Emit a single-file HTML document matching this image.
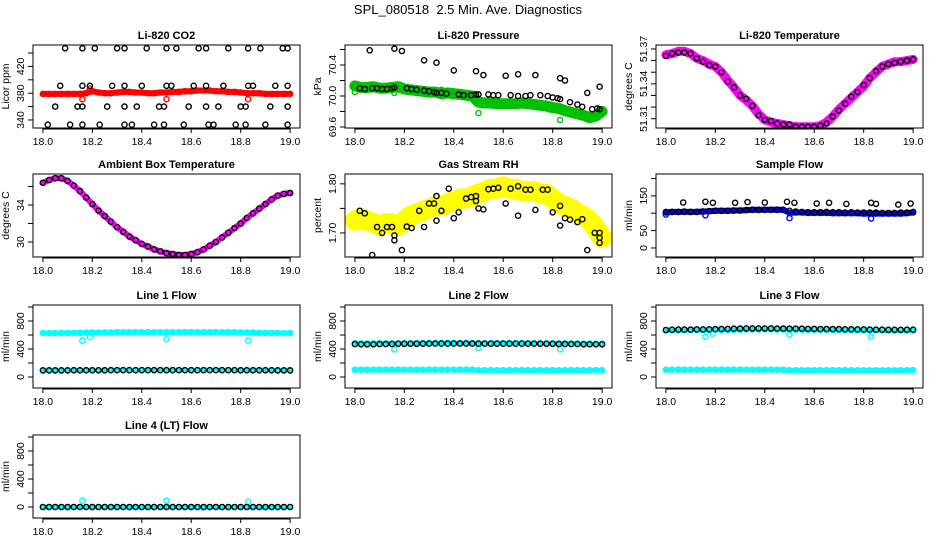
<!DOCTYPE html>
<html><head><meta charset="utf-8">
<style>
html,body{margin:0;padding:0;background:#fff;}
svg{display:block;font-family:"Liberation Sans",Arial,sans-serif;}
</style></head>
<body>
<svg id="chart" width="936" height="540" viewBox="0 0 936 540" xmlns="http://www.w3.org/2000/svg">
<rect x="0" y="0" width="936" height="540" fill="#fff"/>
<text x="468" y="14" text-anchor="middle" font-size="13">SPL_080518&#160; 2.5 Min. Ave. Diagnostics</text>
</svg>
<script>
const bandX = [18.000,18.025,18.050,18.075,18.100,18.125,18.150,18.175,18.200,18.225,18.250,18.275,18.300,18.325,18.350,18.375,18.400,18.425,18.450,18.475,18.500,18.525,18.550,18.575,18.600,18.625,18.650,18.675,18.700,18.725,18.750,18.775,18.800,18.825,18.850,18.875,18.900,18.925,18.950,18.975,19.000];
const xTicks = [18.0,18.2,18.4,18.6,18.8,19.0];
const xTickLabels = ["18.0","18.2","18.4","18.6","18.8","19.0"];

// CO2
const co2Red = [379,379,379,379,379,379,379,380,383,381,380,380,381,382,382,381,381,380,380,381,381,382,382,383,383,384,384,384,383,383,382,382,381,380,380,380,379,379,379,379,379];
const co2RedOutX = [18.16,18.19,18.50,18.83];
const co2RedOutY = [371,387,371,371];
const co2BlackX = [18.09,18.16,18.21,18.30,18.33,18.42,18.50,18.54,18.63,18.66,18.75,18.83,18.88,18.97,18.99,
 18.07,18.16,18.19,18.28,18.33,18.40,18.50,18.52,18.61,18.66,18.73,18.83,18.85,18.94,18.99,
 18.05,18.14,18.16,18.26,18.33,18.38,18.47,18.49,18.59,18.66,18.71,18.80,18.82,18.92,18.99,
 18.02,18.11,18.16,18.23,18.33,18.36,18.45,18.49,18.57,18.67,18.69,18.78,18.82,18.90,18.99];
const co2BlackY = [447,447,447,447,447,447,447,447,447,447,447,447,447,447,447,
 391,391,391,391,391,391,391,391,391,391,391,391,391,391,391,
 360,360,360,360,360,360,360,360,360,360,360,360,360,360,360,
 333,333,333,333,333,333,333,333,333,333,333,333,333,333,333];

// Pressure
const presGreen = [70.13,70.11,70.11,70.12,70.10,70.10,70.11,70.12,70.09,70.08,70.07,70.06,70.05,70.05,70.03,70.04,70.03,70.02,70.01,70.00,69.92,69.91,69.91,69.90,69.90,69.90,69.90,69.91,69.90,69.89,69.88,69.87,69.85,69.84,69.81,69.79,69.77,69.75,69.72,69.74,69.80];
const presGreenOutX = [18.00,18.16,18.35,18.50,18.83];
const presGreenOutY = [70.05,70.04,70.08,69.78,69.69];
const presBlackX = [18.02,18.04,18.07,18.09,18.11,18.13,18.15,18.16,18.21,18.23,18.25,18.28,18.30,18.32,18.33,18.35,18.37,18.42,18.44,18.47,18.49,18.50,18.54,18.56,18.58,18.63,18.66,18.69,18.71,18.75,18.78,18.80,18.82,18.83,18.87,18.90,18.92,18.96,18.98,18.99,
 18.06,18.16,18.19,18.28,18.33,18.40,18.49,18.52,18.61,18.66,18.73,18.83,18.85,18.94,18.99];
const presBlackY = [70.10,70.09,70.10,70.10,70.09,70.09,70.10,70.11,70.10,70.09,70.08,70.07,70.06,70.05,70.04,70.04,70.03,70.02,70.01,70.01,70.02,70.02,70.02,70.01,70.01,70.01,70.00,70.00,70.01,70.01,70.00,69.98,69.97,69.96,69.92,69.89,69.86,69.83,69.84,69.83,
 70.59,70.61,70.58,70.46,70.43,70.33,70.32,70.27,70.26,70.28,70.27,70.23,70.20,70.04,70.12];

// Li-820 temperature
const ltMag = [51.365,51.366,51.368,51.368,51.366,51.362,51.360,51.357,51.355,51.350,51.343,51.337,51.330,51.326,51.321,51.314,51.309,51.307,51.306,51.305,51.304,51.303,51.303,51.303,51.303,51.304,51.307,51.312,51.318,51.323,51.328,51.333,51.338,51.345,51.350,51.355,51.357,51.359,51.359,51.360,51.361];
const ltBlack = [51.364,51.366,51.367,51.367,51.366,51.362,51.359,51.356,51.355,51.350,51.342,51.337,51.330,51.327,51.321,51.313,51.309,51.308,51.306,51.305,51.305,51.303,51.303,51.303,51.303,51.304,51.306,51.312,51.317,51.323,51.329,51.333,51.339,51.345,51.351,51.355,51.357,51.358,51.359,51.360,51.361];

// Ambient
const ambMag = [36.4,36.7,36.9,36.9,36.6,36.1,35.5,34.8,34.1,33.4,32.8,32.2,31.6,31.1,30.6,30.2,29.8,29.5,29.2,29.0,28.8,28.7,28.6,28.6,28.7,28.9,29.2,29.6,30.0,30.5,31.0,31.5,32.0,32.6,33.1,33.6,34.1,34.6,35.0,35.2,35.3];
const ambBlack = [36.4,36.7,36.9,36.9,36.6,36.1,35.5,34.8,34.1,33.4,32.8,32.2,31.6,31.1,30.6,30.2,29.8,29.5,29.2,29.0,28.8,28.7,28.6,28.6,28.7,28.9,29.2,29.6,30.0,30.5,31.0,31.5,32.0,32.6,33.1,33.6,34.1,34.6,35.0,35.2,35.3];

// RH
const rhYellow = [1.725,1.730,1.725,1.720,1.715,1.720,1.720,1.715,1.725,1.735,1.740,1.745,1.750,1.755,1.755,1.760,1.765,1.770,1.770,1.775,1.780,1.785,1.790,1.790,1.795,1.790,1.790,1.785,1.785,1.785,1.780,1.780,1.770,1.760,1.755,1.750,1.740,1.735,1.725,1.710,1.690];
const rhBlackX = [18.02,18.04,18.07,18.09,18.11,18.13,18.15,18.16,18.16,18.19,18.21,18.23,18.26,18.28,18.30,18.32,18.33,18.33,18.35,18.38,18.40,18.42,18.45,18.47,18.49,18.49,18.50,18.52,18.54,18.56,18.58,18.61,18.63,18.66,18.66,18.69,18.71,18.73,18.76,18.78,18.80,18.83,18.83,18.85,18.87,18.90,18.92,18.94,18.97,18.99,18.99,18.99];
const rhBlackY = [1.745,1.740,1.655,1.712,1.700,1.712,1.712,1.695,1.685,1.665,1.713,1.710,1.745,1.712,1.760,1.760,1.725,1.775,1.745,1.790,1.730,1.742,1.770,1.773,1.775,1.765,1.750,1.748,1.789,1.790,1.792,1.760,1.790,1.795,1.735,1.788,1.788,1.747,1.788,1.788,1.742,1.715,1.755,1.730,1.727,1.722,1.728,1.665,1.700,1.700,1.680,1.690];

// Sample flow
const sfBlue = [102,104,104,104,104,104,105,106,107,107,107,108,108,109,110,110,110,110,110,110,101,102,102,101,101,101,101,100,100,100,100,100,99,99,99,99,99,99,99,100,102];
const sfBlack = [104,104,104,105,104,104,105,106,107,107,107,108,108,109,110,109,110,110,110,110,107,105,104,103,103,103,104,103,103,102,103,102,102,102,102,101,101,101,102,102,104];
const sfUpperX = [18.07,18.16,18.19,18.28,18.33,18.40,18.49,18.52,18.61,18.66,18.73,18.83,18.85,18.94,18.99];
const sfUpperY = [131,133,130,130,132,131,133,130,128,130,127,130,127,125,128];
const sfOutX = [18.00,18.16,18.50,18.83];
const sfOutY = [96,94,86,85];

// Line flows
const l1CyanHi = [630,628,628,630,630,632,632,634,636,636,638,638,640,640,640,640,640,640,640,640,640,640,640,640,640,640,640,640,640,640,642,640,638,636,634,632,630,630,630,628,628];
const l1CyanLo = [100,100,100,100,100,100,100,100,100,100,100,100,100,100,100,100,100,100,100,100,100,100,100,100,100,100,100,100,100,100,100,100,100,100,100,100,100,100,100,100,100];
const l1Black = [95,95,95,95,95,96,96,96,96,96,96,97,97,97,97,97,97,97,97,98,98,98,98,98,98,98,98,98,97,97,97,97,96,96,96,96,96,96,95,95,95];
const l1OutX = [18.16,18.19,18.50,18.83];
const l1OutY = [520,570,540,520];

const l2CyanHi = [485,482,480,480,480,480,482,482,484,484,486,486,486,488,488,488,488,488,486,486,484,484,484,484,484,484,484,484,482,482,482,482,482,480,480,480,478,478,478,476,476];
const l2CyanLo = [105,105,105,105,105,105,105,105,105,105,105,105,105,105,105,105,105,105,105,105,98,98,98,98,98,98,98,98,98,98,98,98,98,98,98,98,98,98,98,98,98];
const l2Black = [470,468,468,468,470,470,472,474,474,474,474,476,478,478,478,478,478,478,478,478,476,476,476,476,476,476,476,476,476,476,474,474,474,472,470,470,470,468,468,468,468];
const l2OutX = [18.16,18.50,18.83];
const l2OutY = [395,415,395];

const l3CyanHi = [668,668,668,670,670,670,672,672,674,674,676,676,678,678,680,680,680,680,680,680,678,678,676,676,676,674,674,672,672,672,670,670,668,668,668,666,666,664,664,664,664];
const l3CyanLo = [105,105,105,105,105,105,105,105,105,105,105,105,105,105,105,105,105,105,105,105,98,98,98,98,98,98,98,98,98,98,98,98,96,96,96,96,96,96,96,98,100];
const l3Black = [672,676,678,678,678,680,680,682,684,686,688,690,692,694,694,694,694,694,692,692,690,690,690,688,688,686,686,684,684,682,682,680,680,678,676,676,674,674,674,676,676];
const l3OutX = [18.16,18.19,18.50,18.83];
const l3OutY = [575,620,605,575];

const l4Cyan = [0,0,0,0,0,0,0,0,0,0,0,0,0,0,0,0,0,0,0,0,0,0,0,0,0,0,0,0,0,0,0,0,0,0,0,0,0,0,0,0,0];
const l4Black = [0,0,0,0,0,0,0,0,0,0,0,0,0,0,0,0,0,0,0,0,0,0,0,0,0,0,0,0,0,0,0,0,0,0,0,0,0,0,0,0,0];
const l4OutX = [18.16,18.50,18.83];
const l4OutY = [90,90,75];

const NS = "http://www.w3.org/2000/svg";
const svg = document.getElementById("chart");
function mk(tag, attrs, parent){
  const e = document.createElementNS(NS, tag);
  for (const k in attrs) e.setAttribute(k, attrs[k]);
  (parent||svg).appendChild(e);
  return e;
}
const colL = [33,345,656], rowT = [45,174,305,435];
const BW = 267, BH = 83;

function panel(cfg){
  const L = colL[cfg.col], T = rowT[cfg.row];
  const g = mk("g", {});
  
  
  const xs = v => L + (v - 17.96) / 1.08 * BW;
  const ys = v => T + BH - (v - cfg.ylim[0]) / (cfg.ylim[1] - cfg.ylim[0]) * BH;
  const clip = mk("clipPath", {id: "clip-" + cfg.name}, g);
  mk("rect", {x: L, y: T, width: BW, height: BH}, clip);
  const plot = mk("g", {"clip-path": "url(#clip-" + cfg.name + ")"}, g);
  
  
  cfg.series.forEach(s => {
    if (s.band) {
      const pts = s.vals.map((v,i) => xs(bandX[i]).toFixed(1) + "," + ys(v).toFixed(1)).join(" ");
      const pl = mk("polyline", {points: pts, fill: "none", stroke: s.color, "stroke-width": s.band, "stroke-linejoin": "round", "stroke-linecap": "round"}, plot);
      
      
    }
    const px = s.x || bandX;
    const n = Math.min(px.length, s.vals.length);
    for (let i = 0; i < n; i++) {
      const c = mk("circle", {cx: xs(px[i]).toFixed(1), cy: ys(s.vals[i]).toFixed(1), r: 2.6, fill: "none", stroke: s.color, "stroke-width": 1.4}, plot);
      
      
    }
  });
  const box = mk("rect", {x: L, y: T, width: BW, height: BH, fill: "none", stroke: "#000", "stroke-width": 1}, g);
  
  
  const title = mk("text", {x: L + BW/2, y: T - 6, "text-anchor": "middle", "font-size": 11, "font-weight": "bold"}, g);
  title.textContent = cfg.title;
  
  
  mk("line", {x1: xs(xTicks[0]), x2: xs(xTicks[xTicks.length-1]), y1: T+BH+1, y2: T+BH+1, stroke: "#000"}, g);
  xTicks.forEach((t,i) => {
    mk("line", {x1: xs(t), x2: xs(t), y1: T+BH, y2: T+BH+5, stroke: "#000"}, g);
    const tl = mk("text", {x: xs(t), y: T+BH+17, "text-anchor": "middle", "font-size": 10.5}, g);
    tl.textContent = xTickLabels[i];
    
    
  });
  cfg.yticks.forEach(t => {
    mk("line", {x1: L-5, x2: L, y1: ys(t), y2: ys(t), stroke: "#000"}, g);
  });
  cfg.ylabels.forEach((t,i) => {
    const yy = ys(t);
    const tl = mk("text", {x: L-9, y: yy, "text-anchor": "middle", "font-size": 10.5, transform: "rotate(-90 " + (L-9) + " " + yy + ")"}, g);
    tl.textContent = cfg.ylabelText[i];
    
    
  });
  const yt = mk("text", {x: L-24, y: T+BH/2, "text-anchor": "middle", "font-size": 10.5, transform: "rotate(-90 " + (L-24) + " " + (T+BH/2) + ")"}, g);
  yt.textContent = cfg.ytitle;
  
  
}

const flowTicks = [0,200,400,600,800,1000];
const flowLab = [0,400,800], flowLabT = ["0","400","800"];

panel({name:"co2-panel", col:0, row:0, title:"Li-820 CO2", ytitle:"Licor ppm", ylim:[328,452],
  yticks:[340,360,380,400,420,440], ylabels:[340,380,420], ylabelText:["340","380","420"],
  series:[{name:"co2-red", vals:co2Red, color:"#ff0000", band:6},
          {name:"co2-red-outlier", vals:co2RedOutY, x:co2RedOutX, color:"#ff0000"},
          {name:"co2-black", vals:co2BlackY, x:co2BlackX, color:"#000"}]});
panel({name:"pressure-panel", col:1, row:0, title:"Li-820 Pressure", ytitle:"kPa", ylim:[69.587,70.658],
  yticks:[69.6,69.8,70.0,70.2,70.4,70.6], ylabels:[69.6,70.0,70.4], ylabelText:["69.6","70.0","70.4"],
  series:[{name:"pressure-green", vals:presGreen, color:"#00c000", band:11},
          {name:"pressure-green-outlier", vals:presGreenOutY, x:presGreenOutX, color:"#00c000"},
          {name:"pressure-black", vals:presBlackY, x:presBlackX, color:"#000"}]});
panel({name:"li820-temp-panel", col:2, row:0, title:"Li-820 Temperature", ytitle:"degrees C", ylim:[51.302,51.3734],
  yticks:[51.31,51.32,51.33,51.34,51.35,51.36,51.37], ylabels:[51.31,51.34,51.37], ylabelText:["51.31","51.34","51.37"],
  series:[{name:"li820-temp-magenta", vals:ltMag, color:"#ff00ff", band:9},
          {name:"li820-temp-black", vals:ltBlack, color:"#000"}]});
panel({name:"ambient-temp-panel", col:0, row:1, title:"Ambient Box Temperature", ytitle:"degrees C", ylim:[28.38,37.35],
  yticks:[30,32,34,36], ylabels:[30,34], ylabelText:["30","34"],
  series:[{name:"ambient-magenta", vals:ambMag, color:"#ff00ff", band:6},
          {name:"ambient-black", vals:ambBlack, color:"#000"}]});
panel({name:"rh-panel", col:1, row:1, title:"Gas Stream RH", ytitle:"percent", ylim:[1.651,1.820],
  yticks:[1.70,1.75,1.80], ylabels:[1.70,1.80], ylabelText:["1.70","1.80"],
  series:[{name:"rh-yellow", vals:rhYellow, color:"#ffff00", band:20},
          {name:"rh-black", vals:rhBlackY, x:rhBlackX, color:"#000"}]});
panel({name:"sample-flow-panel", col:2, row:1, title:"Sample Flow", ytitle:"ml/min", ylim:[-26,213],
  yticks:[0,50,100,150,200], ylabels:[0,50,150], ylabelText:["0","50","150"],
  series:[{name:"sample-blue", vals:sfBlue, color:"#0000ff", band:6},
          {name:"sample-blue-outlier", vals:sfOutY, x:sfOutX, color:"#0000ff"},
          {name:"sample-black", vals:sfBlack, color:"#000"},
          {name:"sample-black-upper", vals:sfUpperY, x:sfUpperX, color:"#000"}]});
panel({name:"line1-flow-panel", col:0, row:2, title:"Line 1 Flow", ytitle:"ml/min", ylim:[-157,1029],
  yticks:flowTicks, ylabels:flowLab, ylabelText:flowLabT,
  series:[{name:"line1-cyan-high", vals:l1CyanHi, color:"#00ffff", band:5},
          {name:"line1-cyan-low", vals:l1CyanLo, color:"#00ffff", band:4},
          {name:"line1-cyan-outlier", vals:l1OutY, x:l1OutX, color:"#00ffff"},
          {name:"line1-black", vals:l1Black, color:"#000"}]});
panel({name:"line2-flow-panel", col:1, row:2, title:"Line 2 Flow", ytitle:"ml/min", ylim:[-157,1029],
  yticks:flowTicks, ylabels:flowLab, ylabelText:flowLabT,
  series:[{name:"line2-cyan-high", vals:l2CyanHi, color:"#00ffff", band:4},
          {name:"line2-cyan-low", vals:l2CyanLo, color:"#00ffff", band:5},
          {name:"line2-cyan-outlier", vals:l2OutY, x:l2OutX, color:"#00ffff"},
          {name:"line2-black", vals:l2Black, color:"#000"}]});
panel({name:"line3-flow-panel", col:2, row:2, title:"Line 3 Flow", ytitle:"ml/min", ylim:[-157,1029],
  yticks:flowTicks, ylabels:flowLab, ylabelText:flowLabT,
  series:[{name:"line3-cyan-high", vals:l3CyanHi, color:"#00ffff", band:5},
          {name:"line3-cyan-low", vals:l3CyanLo, color:"#00ffff", band:5},
          {name:"line3-cyan-outlier", vals:l3OutY, x:l3OutX, color:"#00ffff"},
          {name:"line3-black", vals:l3Black, color:"#000"}]});
panel({name:"line4-flow-panel", col:0, row:3, title:"Line 4 (LT) Flow", ytitle:"ml/min", ylim:[-157,1029],
  yticks:flowTicks, ylabels:flowLab, ylabelText:flowLabT,
  series:[{name:"line4-cyan", vals:l4Cyan, color:"#00ffff", band:4},
          {name:"line4-cyan-outlier", vals:l4OutY, x:l4OutX, color:"#00ffff"},
          {name:"line4-black", vals:l4Black, color:"#000"}]});
</script>
</body></html>
